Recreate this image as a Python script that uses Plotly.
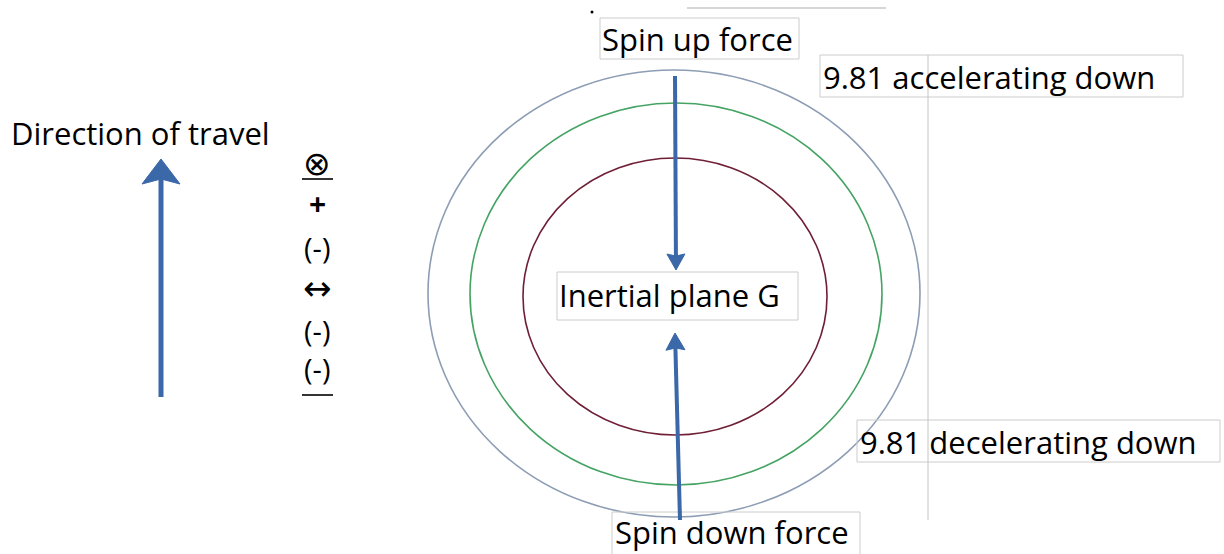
import math
import plotly.graph_objects as go

W, H = 1224, 554
FONT = "Open Sans, DejaVu Sans, sans-serif"
SYMFONT = "DejaVu Sans, Open Sans, sans-serif"
BLUE = "#3b68a8"

# Concentric rings (ellipses): left, right, top, bottom, colour
ring_x0 = [428, 470, 523]
ring_x1 = [920, 882, 827]
ring_y0 = [70, 103, 158]
ring_y1 = [517, 485, 435]
ring_colors = ["#8d9db4", "#45a363", "#6e1f35"]

# Labelled boxes: left, right, top, bottom
box_labels = ["Spin up force", "9.81 accelerating down", "Inertial plane G",
              "9.81 decelerating down", "Spin down force"]
box_x0 = [600, 820, 557, 857, 612]
box_x1 = [799, 1183, 798, 1220, 860]
box_y0 = [18, 55, 272, 420, 512]
box_y1 = [59, 97, 320, 462, 570]
label_x = [600, 821, 557, 858, 613]
label_y = [39, 77, 295, 442, 532]
label_size = [31, 31, 31, 31, 31]

# Free text
title_text = "Direction of travel"
title_pos = (9, 133)
title_size = 31

# Symbol column
symbols = ["⊗", "<b>+</b>", "(-)", "↔", "(-)", "(-)"]
symbol_y = [163, 203, 247, 288, 330, 368]
symbol_size = [33, 30, 29, 34, 29, 29]
symbol_x = 317
underline_y = [179, 395]
underline_x = (302, 333)

# Arrows: tail (x, y) -> tip (x, y), width, head length, head half-width, notch
arrow_tail_x = [161, 675, 680]
arrow_tail_y = [397, 76, 520]
arrow_tip_x = [161, 676, 675]
arrow_tip_y = [159, 270, 333]
arrow_width = [5, 4, 4]
head_len = [25, 16, 17]
head_half = [19, 9, 9.5]
head_notch = [5, 2, 2]

fig = go.Figure()
fig.add_trace(go.Scatter(x=[592], y=[12], mode="markers",
                         marker=dict(size=3, color="black"), hoverinfo="skip",
                         showlegend=False))

shapes = []
for x0, x1, y0, y1, c in zip(ring_x0, ring_x1, ring_y0, ring_y1, ring_colors):
    shapes.append(dict(type="circle", xref="x", yref="y", x0=x0, x1=x1, y0=y0, y1=y1,
                       line=dict(color=c, width=1.6)))
for x0, x1, y0, y1 in zip(box_x0, box_x1, box_y0, box_y1):
    shapes.append(dict(type="rect", xref="x", yref="y", x0=x0, x1=x1, y0=y0, y1=y1,
                       line=dict(color="#cccccc", width=1), fillcolor="rgba(255,255,255,0)"))
# guide lines
shapes.append(dict(type="line", x0=928, x1=928, y0=55, y1=520, line=dict(color="#c4c4c4", width=1)))
shapes.append(dict(type="line", x0=687, x1=886, y0=8, y1=8, line=dict(color="#c8c8c8", width=1.5)))
for uy in underline_y:
    shapes.append(dict(type="line", x0=underline_x[0], x1=underline_x[1], y0=uy, y1=uy,
                       line=dict(color="black", width=1.6)))

# arrows: shaft + stealth head
for tx, ty, hx, hy, w, L, hw, nt in zip(arrow_tail_x, arrow_tail_y, arrow_tip_x, arrow_tip_y,
                                         arrow_width, head_len, head_half, head_notch):
    dx, dy = hx - tx, hy - ty
    n = math.hypot(dx, dy)
    ux, uy = dx / n, dy / n
    px, py = -uy, ux
    bx, by = hx - ux * L, hy - uy * L
    nx_, ny_ = hx - ux * (L - nt), hy - uy * (L - nt)
    shapes.append(dict(type="line", x0=tx, y0=ty, x1=nx_, y1=ny_,
                       line=dict(color=BLUE, width=w)))
    path = (f"M {hx},{hy} L {bx + px * hw},{by + py * hw} L {nx_},{ny_} "
            f"L {bx - px * hw},{by - py * hw} Z")
    shapes.append(dict(type="path", path=path, fillcolor=BLUE, line=dict(color=BLUE, width=1)))

annotations = []
for t, x, y, s in zip(box_labels, label_x, label_y, label_size):
    annotations.append(dict(text=t, x=x, y=y, xref="x", yref="y", xanchor="left",
                            yanchor="middle", showarrow=False,
                            font=dict(family=FONT, size=s, color="black")))
annotations.append(dict(text=title_text, x=title_pos[0], y=title_pos[1], xref="x", yref="y",
                        xanchor="left", yanchor="middle", showarrow=False,
                        font=dict(family=FONT, size=title_size, color="black")))
for t, y, s in zip(symbols, symbol_y, symbol_size):
    annotations.append(dict(text=t, x=symbol_x, y=y, xref="x", yref="y", xanchor="center",
                            yanchor="middle", showarrow=False,
                            font=dict(family=SYMFONT if t in ("⊗", "↔") else FONT,
                                      size=s, color="black")))

fig.update_layout(
    width=W, height=H, margin=dict(l=0, r=0, t=0, b=0),
    paper_bgcolor="white", plot_bgcolor="white",
    xaxis=dict(range=[0, W], visible=False, fixedrange=True),
    yaxis=dict(range=[H, 0], visible=False, fixedrange=True),
    shapes=shapes, annotations=annotations, showlegend=False,
)
fig.write_html("out.html", config={"displayModeBar": False},
               post_script="document.body.style.margin='0';document.body.style.overflow='hidden';")
